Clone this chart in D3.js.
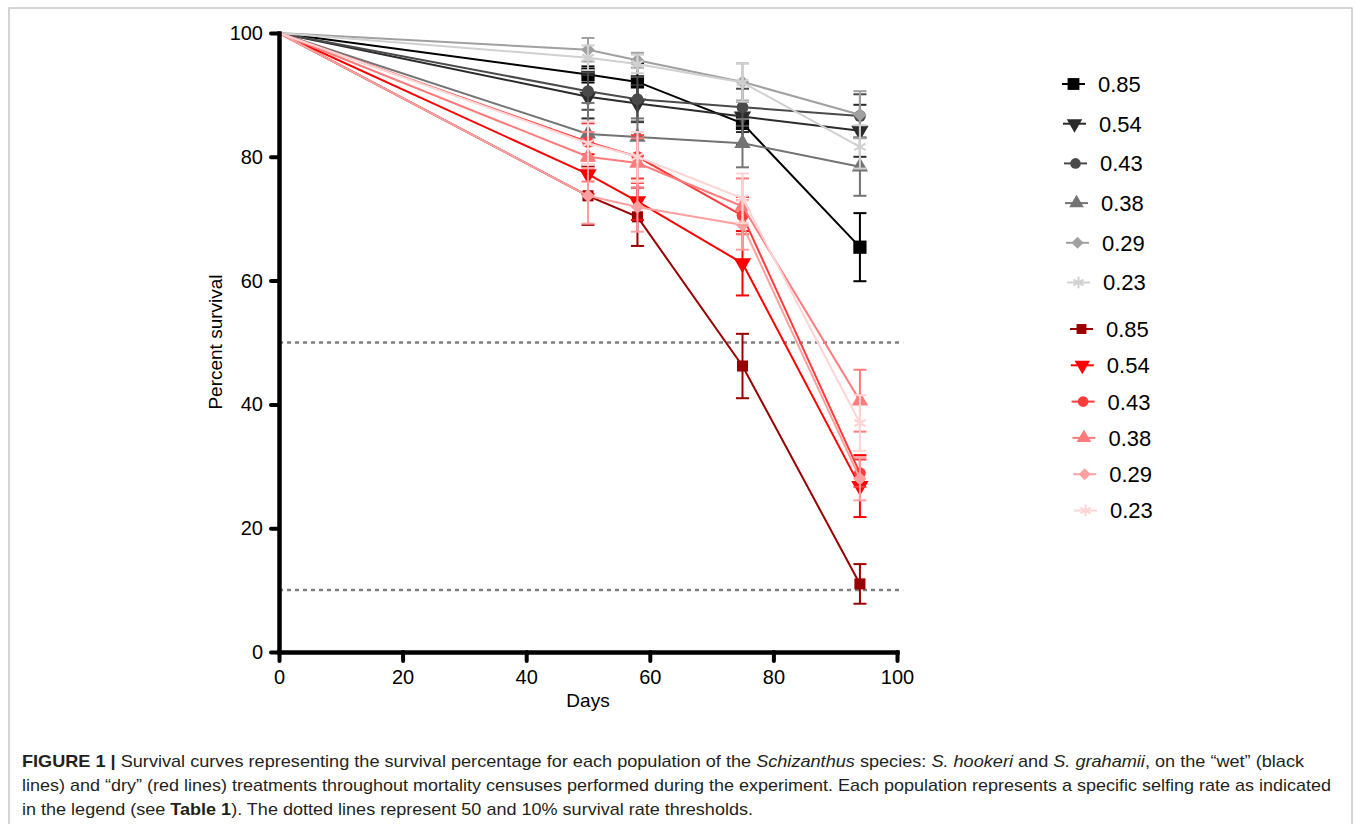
<!DOCTYPE html>
<html>
<head>
<meta charset="utf-8">
<script src="https://cdn.jsdelivr.net/npm/d3@7"></script>
<style>
  body { margin: 0; background: #fff; }
  svg { display: block; font-family: "Liberation Sans", Arial, sans-serif; }
</style>
</head>
<body>
<svg id="chart" width="1355" height="824"></svg>
<script>
// census days and selfing rates (legend)
var days = [0, 50, 58, 75, 94];
var rates = ['0.85', '0.54', '0.43', '0.38', '0.29', '0.23'];
var yTicks = [0, 20, 40, 60, 80, 100];
var xTicks = [0, 20, 40, 60, 80, 100];
var thresholds = [50, 10];

// "wet" treatment (black lines), one row per rate
var wetSurvival = [
  [100, 93.3, 92.1, 85.4, 65.4],
  [100, 89.7, 88.6, 86.5, 84.2],
  [100, 90.6, 89.3, 88.0, 86.6],
  [100, 83.7, 83.2, 82.2, 78.4],
  [100, 97.3, 95.6, 92.1, 86.8],
  [100, 96.0, 95.0, 92.0, 81.6]
];
var wetError = [
  [0, 1.3, 3.0, 3.5, 5.5],
  [0, 3.5, 3.0, 2.5, 4.2],
  [0, 3.0, 3.6, 3.0, 3.5],
  [0, 5.0, 3.0, 3.9, 4.7],
  [0, 1.9, 1.2, 3.0, 3.8],
  [0, 2.0, 1.5, 3.1, 3.5]
];

// "dry" treatment (red lines)
var drySurvival = [
  [100, 73.7, 70.3, 46.2, 11.0],
  [100, 77.2, 72.8, 62.8, 26.8],
  [100, 82.4, 80.0, 70.5, 28.9],
  [100, 80.0, 79.0, 72.0, 40.6],
  [100, 73.7, 71.9, 69.0, 28.0],
  [100, 82.2, 80.0, 73.3, 37.0]
];
var dryError = [
  [0, 4.7, 4.7, 5.2, 3.2],
  [0, 3.2, 3.0, 5.2, 5.0],
  [0, 3.0, 3.5, 3.0, 2.2],
  [0, 4.0, 4.0, 4.5, 5.0],
  [0, 4.5, 4.0, 4.0, 3.5],
  [0, 3.5, 4.0, 4.0, 4.5]
];

var wetColors = ['#000000', '#2b2b2b', '#4a4a4a', '#737373', '#a0a0a0', '#d0d0d0'];
var dryColors = ['#990000', '#ff0000', '#ff3b3b', '#ff7b7b', '#ffa0a0', '#ffd4d4'];

// marker per rate: square, down triangle, circle, triangle, diamond (rotated square), asterisk
var symbols = [d3.symbolSquare, d3.symbolTriangle, d3.symbolCircle,
               d3.symbolTriangle, d3.symbolSquare, d3.symbolAsterisk];
var symbolRotate = [0, 180, 0, 0, 45, 0];
var symbolSizes = [175, 130, 110, 115, 90, 120];

var svg = d3.select('#chart');

// figure frame
svg.append('rect')
    .attr('x', 9).attr('y', 8)
    .attr('width', 1343).attr('height', 840)
    .attr('fill', 'none')
    .attr('stroke', '#c8c8c8')
    .attr('stroke-width', 1.5);

var x = d3.scaleLinear().domain([0, 100]).range([279, 897]);
var y = d3.scaleLinear().domain([0, 100]).range([652, 33]);

// threshold lines
svg.selectAll('line.threshold')
    .data(thresholds)
    .enter()
    .append('line')
    .attr('class', 'threshold')
    .attr('x1', x(0)).attr('x2', x(101))
    .attr('y1', function(d){ return y(d); })
    .attr('y2', function(d){ return y(d); })
    .attr('stroke', '#808080')
    .attr('stroke-width', 2.5)
    .attr('stroke-dasharray', '4,4');

function buildSeries(survival, errors, colors, name){
  return survival.map(function(vals, i){
    return {
      name: name,
      color: colors[i],
      idx: i,
      points: vals.map(function(v, j){ return {day: days[j], v: v, e: errors[i][j]}; })
    };
  });
}

var series = buildSeries(wetSurvival, wetError, wetColors, 'wet')
    .concat(buildSeries(drySurvival, dryError, dryColors, 'dry'));

var line = d3.line()
    .x(function(d){ return x(d.day); })
    .y(function(d){ return y(d.v); });

var groups = svg.selectAll('g.series')
    .data(series)
    .enter()
    .append('g')
    .attr('class', 'series');

groups.append('path')
    .attr('d', function(d){ return line(d.points); })
    .attr('fill', 'none')
    .attr('stroke', function(d){ return d.color; })
    .attr('stroke-width', 2);

function markerSize(idx, dry){
  // the red squares are a bit smaller than the black ones
  return symbolSizes[idx] * (dry && idx === 0 ? 0.7 : 1);
}

// error bars and markers
groups.each(function(s){
  var g = d3.select(this);
  var pts = s.points.filter(function(p){ return p.day > 0; });
  var eb = g.selectAll('g.err').data(pts).enter().append('g').attr('class', 'err')
      .attr('stroke', s.color).attr('stroke-width', 2);
  eb.append('line')
      .attr('x1', function(p){ return x(p.day); })
      .attr('x2', function(p){ return x(p.day); })
      .attr('y1', function(p){ return y(p.v + p.e); })
      .attr('y2', function(p){ return y(p.v - p.e); });
  [1, -1].forEach(function(sign){
    eb.append('line')
        .attr('x1', function(p){ return x(p.day) - 6.5; })
        .attr('x2', function(p){ return x(p.day) + 6.5; })
        .attr('y1', function(p){ return y(p.v + sign * p.e); })
        .attr('y2', function(p){ return y(p.v + sign * p.e); });
  });

  var sym = d3.symbol().type(symbols[s.idx]).size(markerSize(s.idx, s.name === 'dry'));
  var stroked = symbols[s.idx] === d3.symbolAsterisk;
  g.selectAll('path.mark').data(pts).enter().append('path')
      .attr('class', 'mark')
      .attr('d', sym())
      .attr('transform', function(p){
        return 'translate(' + x(p.day) + ',' + y(p.v) + ') rotate(' + symbolRotate[s.idx] + ')';
      })
      .attr('fill', stroked ? 'none' : s.color)
      .attr('stroke', stroked ? s.color : 'none')
      .attr('stroke-width', stroked ? 2.2 : 0);
});

// axes
var yAxis = d3.axisLeft(y).tickValues(yTicks).tickSize(8).tickSizeOuter(0).tickPadding(8);
var xAxis = d3.axisBottom(x).tickValues(xTicks).tickSize(9).tickSizeOuter(0).tickPadding(9);

var gy = svg.append('g').attr('transform', 'translate(' + x(0) + ',0)').call(yAxis);
var gx = svg.append('g').attr('transform', 'translate(0,' + y(0) + ')').call(xAxis);

[gx, gy].forEach(function(g){
  g.select('.domain').attr('stroke', '#000').attr('stroke-width', 4.5).attr('stroke-linecap', 'square');
  g.selectAll('.tick line').attr('stroke', '#000').attr('stroke-width', 4).attr('stroke-linecap', 'round');
  g.selectAll('.tick text').attr('font-size', 20).attr('fill', '#000')
      .attr('font-family', '"Liberation Sans", Arial, sans-serif');
});

svg.append('text')
    .attr('x', 588).attr('y', 707)
    .attr('text-anchor', 'middle')
    .attr('font-size', 19)
    .text('Days');

svg.append('text')
    .attr('transform', 'translate(222,342) rotate(-90)')
    .attr('text-anchor', 'middle')
    .attr('font-size', 19)
    .text('Percent survival');

// legend
var legendRows = rates.map(function(r, i){
  return {label: r, color: wetColors[i], idx: i, dry: false, cy: 84 + i * 39.7, x0: 1062 + i * 1};
}).concat(rates.map(function(r, i){
  return {label: r, color: dryColors[i], idx: i, dry: true, cy: 329 + i * 36.3, x0: 1070 + i * 0.8};
}));

var legend = svg.selectAll('g.legend')
    .data(legendRows)
    .enter()
    .append('g')
    .attr('class', 'legend')
    .attr('transform', function(d){ return 'translate(' + d.x0 + ',' + d.cy + ')'; });

legend.append('line')
    .attr('x1', 0).attr('x2', 23)
    .attr('stroke', function(d){ return d.color; })
    .attr('stroke-width', 2);

legend.append('path')
    .attr('d', function(d){ return d3.symbol().type(symbols[d.idx]).size(markerSize(d.idx, d.dry) * 0.8)(); })
    .attr('transform', function(d){ return 'translate(11.5,0) rotate(' + symbolRotate[d.idx] + ')'; })
    .attr('fill', function(d){ return symbols[d.idx] === d3.symbolAsterisk ? 'none' : d.color; })
    .attr('stroke', function(d){ return symbols[d.idx] === d3.symbolAsterisk ? d.color : 'none'; })
    .attr('stroke-width', 2);

legend.append('text')
    .attr('x', 36)
    .attr('dy', '0.36em')
    .attr('font-size', 22)
    .attr('fill', '#000')
    .text(function(d){ return d.label; });

// caption
var caption = [
  {y: 767, len: 1282, parts: [
    {t: 'FIGURE 1 | ', w: 'bold'}, {t: 'Survival curves representing the survival percentage for each population of the '},
    {t: 'Schizanthus', s: 'italic'}, {t: ' species: '}, {t: 'S. hookeri', s: 'italic'}, {t: ' and '},
    {t: 'S. grahamii', s: 'italic'}, {t: ', on the \u201cwet\u201d (black'}]},
  {y: 791, len: 1309, parts: [
    {t: 'lines) and \u201cdry\u201d (red lines) treatments throughout mortality censuses performed during the experiment. Each population represents a specific selfing rate as indicated'}]},
  {y: 815, len: 731, parts: [
    {t: 'in the legend (see '}, {t: 'Table 1', w: 'bold'}, {t: '). The dotted lines represent 50 and 10% survival rate thresholds.'}]}
];

caption.forEach(function(c){
  var t = svg.append('text')
      .attr('x', 22).attr('y', c.y)
      .attr('font-size', 17)
      .attr('fill', '#231f20')
      .attr('textLength', c.len)
      .attr('lengthAdjust', 'spacingAndGlyphs');
  c.parts.forEach(function(p){
    t.append('tspan')
        .attr('font-weight', p.w || 'normal')
        .attr('font-style', p.s || 'normal')
        .text(p.t);
  });
});
</script>
</body>
</html>
